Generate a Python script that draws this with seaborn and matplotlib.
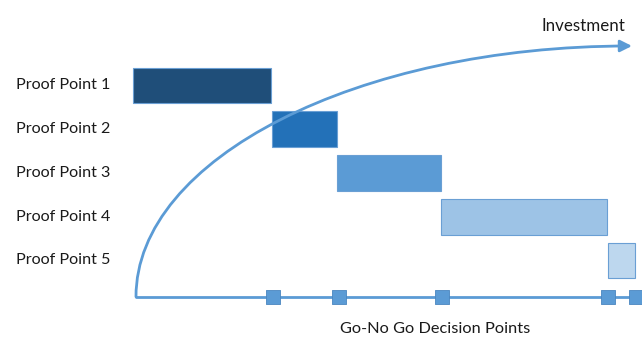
import matplotlib
matplotlib.use("Agg")
import matplotlib.pyplot as plt
from matplotlib.path import Path
from matplotlib.patches import FancyArrowPatch
import numpy as np
import pandas as pd
import seaborn as sns

# Proof-point phases on a timeline (arbitrary time units, 0 = project start)
phases = ["Proof Point 1", "Proof Point 2", "Proof Point 3", "Proof Point 4", "Proof Point 5"]
phase_start = [-0.3, 13.6, 20.1, 30.5, 47.2]
phase_end = [13.5, 20.1, 30.5, 47.1, 49.9]
phase_colors = ["#1f4e79", "#2371b8", "#5b9bd5", "#9dc3e6", "#bdd7ee"]

# Go / No-Go decision gates along the timeline
decision_points = [13.7, 20.3, 30.6, 47.2, 50.0]

sns.set_theme(style="white")
plt.rcParams["font.family"] = ["Lato", "DejaVu Sans"]

fig = plt.figure(figsize=(6.42, 3.37), dpi=100)
ax = fig.add_axes([0, 0, 1, 1])
ax.set_xlim(-13.6, 50.6)
ax.set_ylim(5.749, -1.954)
ax.axis("off")

rows = np.arange(len(phases))
df = pd.DataFrame({"phase": phases, "start": phase_start, "end": phase_end, "row": rows})

# phase bars
ax.barh(df["row"], df["end"] - df["start"], left=df["start"], height=0.82,
        color=phase_colors, edgecolor="#6a9fd4", linewidth=0.8, zorder=2)

# phase labels
for r, name in zip(df["row"], df["phase"]):
    ax.text(-7.3, r, name, ha="center", va="center", fontsize=11.6, color="#1a1a1a")

line_color = "#5b9bd5"
base_y = 4.83

# timeline baseline and decision gates
sns.lineplot(x=[0, 50.6], y=[base_y, base_y], ax=ax, color=line_color, linewidth=2, zorder=3)
gates = pd.DataFrame({"t": decision_points, "y": [base_y] * len(decision_points)})
sns.scatterplot(data=gates, x="t", y="y", ax=ax, marker="s", s=95, color=line_color,
                edgecolor="#4a86c0", linewidth=0.6, zorder=4)

# investment curve: quarter-ellipse shaped rising arrow
x0, y0 = 0.0, base_y
x1, y1 = 49.6, (46 - 85.5) / 43.75
k = 0.5523
verts = [(x0, y0), (x0, y0 + k * (y1 - y0)), (x1 - k * (x1 - x0), y1), (x1, y1)]
curve = Path(verts, [Path.MOVETO, Path.CURVE4, Path.CURVE4, Path.CURVE4])
arrow = FancyArrowPatch(path=curve, arrowstyle="-|>,head_length=7,head_width=3.5",
                        color=line_color, linewidth=2, zorder=5)
ax.add_patch(arrow)

ax.text(44.7, (26 - 85.5) / 43.75, "Investment", ha="center", va="center",
        fontsize=12.2, color="#1a1a1a")
ax.text(29.95, (329 - 85.5) / 43.75, "Go-No Go Decision Points", ha="center", va="center",
        fontsize=11.8, color="#1a1a1a")

fig.savefig("out.png", dpi=100, facecolor="white")
